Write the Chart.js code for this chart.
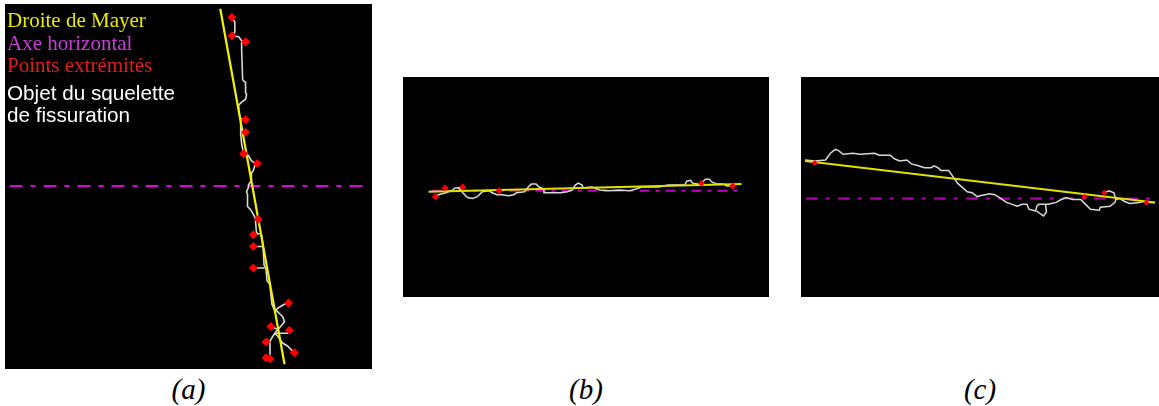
<!DOCTYPE html>
<html>
<head>
<meta charset="utf-8">
<script src="https://cdn.jsdelivr.net/npm/chart.js@4/dist/chart.umd.min.js"></script>
<style>
  html, body { margin: 0; padding: 0; background: #ffffff; }
  #page { position: relative; width: 1159px; height: 406px; overflow: hidden; background: #fff; }
  canvas { position: absolute; background: #000; }
  .leg { position: absolute; white-space: nowrap; line-height: 1; }
  .serif { font-family: "Liberation Serif", "DejaVu Serif", serif; font-size: 21px; }
  .sans { font-family: "Liberation Sans", Arial, sans-serif; font-size: 20.7px; color: #ffffff; }
  .cap { position: absolute; top: 371px; height: 36px; line-height: 36px; text-align: center;
         font-family: "Liberation Serif", "DejaVu Serif", serif; font-style: italic; font-size: 29px; color: #000; }
</style>
</head>
<body>
<div id="page">
  <canvas id="ca" width="367" height="365" style="left:5px;top:4px;"></canvas>
  <canvas id="cb" width="366" height="220" style="left:403px;top:77px;"></canvas>
  <canvas id="cc" width="358" height="220" style="left:801px;top:77px;"></canvas>

  <div class="leg serif" style="left:7px;top:10px;color:#ecec00;">Droite de Mayer</div>
  <div class="leg serif" style="left:7px;top:33px;color:#c83cd8;">Axe horizontal</div>
  <div class="leg serif" style="left:7px;top:55px;color:#e01c1c;">Points extrémités</div>
  <div class="leg sans" style="left:7px;top:83px;">Objet du squelette</div>
  <div class="leg sans" style="left:7px;top:105px;">de fissuration</div>

  <div class="cap" style="left:5px;width:367px;">(a)</div>
  <div class="cap" style="left:403px;width:366px;">(b)</div>
  <div class="cap" style="left:801px;width:358px;">(c)</div>
</div>
<script>
// ---------- Panel (a) ----------
const panelA_bounds = [5, 372, 4, 369];
const panelA_mayer = [[221, 4], [287, 369]];
const panelA_axis = [[5, 186], [372, 186]];
const panelA_ends = [[233,13],[233,32],[247,38],[247,118],[247,131],[245,153],[259,163],[260,220],[255,236],[255,248],[255,270],[291,306],[273,330],[292,334],[268,346],[297,357],[268,362],[272,363]];
const panelA_skeleton = [
  [[233,13],[236,18],[236,28],[233,32],[240,33],[243,37],[243,47],[244,77],[247,80],[247,90],[248,92],[247,97],[243,100],[240,103],[240,110],[242,117],[242,133],[243,143],[245,152],[248,153],[250,155],[253,160],[257,163],[255,170],[253,173],[253,180],[250,185],[250,187],[248,192],[249,195],[249,207],[252,210],[255,215],[257,219],[258,232],[259,235],[263,235],[264,240],[265,250],[266,267],[268,272],[269,283],[272,287],[273,298],[274,307],[276,312],[278,313]],
  [[243,37],[247,38]],
  [[242,117],[247,118]],
  [[242,131],[247,131]],
  [[257,163],[259,163]],
  [[259,235],[255,236]],
  [[264,248],[255,248]],
  [[266,270],[255,270]],
  [[278,313],[282,310],[287,307],[291,306]],
  [[278,313],[282,317],[285,320],[287,325],[283,330],[280,333],[277,337]],
  [[280,333],[273,330]],
  [[277,337],[290,337],[292,334]],
  [[277,337],[280,340],[282,343],[285,347],[290,350],[295,355],[297,357]],
  [[277,337],[275,340],[272,345],[268,346]],
  [[272,345],[272,360],[272,363]]
];

// ---------- Panel (b) ----------
const panelB_bounds = [403, 769, 77, 297];
const panelB_mayer = [[425, 192], [745, 184]];
const panelB_axis = [[428, 191], [745, 191]];
const panelB_ends = [[432,197],[442,188],[460,187],[497,191],[704,183],[736,186]];
const panelB_skeleton = [
  [[432,197],[435,195],[443,193],[450,190],[452,188],[455,188],[458,190],[460,193],[465,198],[470,199],[475,197],[480,192],[487,191],[490,193],[495,195],[500,195],[507,196],[512,195],[515,193],[523,192],[527,187],[530,184],[535,184],[538,187],[543,189],[543,193],[550,193],[560,193],[567,192],[572,190],[575,185],[578,183],[582,185],[583,188],[592,187],[600,190],[610,191],[620,190],[630,191],[637,189],[643,187],[650,187],[660,187],[670,185],[677,185],[687,185],[689,181],[693,180],[695,183],[700,184],[705,182],[708,179],[712,179],[715,182],[720,184],[727,184],[730,186],[736,186]],
  [[443,193],[442,188]],
  [[455,188],[460,187]]
];

// ---------- Panel (c) ----------
const panelC_bounds = [801, 1159, 77, 297];
const panelC_mayer = [[801, 160], [1159, 203]];
const panelC_axis = [[802, 199], [1159, 199]];
const panelC_ends = [[811,162],[1087,197],[1107,193],[1150,203]];
const panelC_skeleton = [
  [[801,159],[811,160],[822,159],[827,152],[832,148],[835,149],[840,153],[850,152],[857,153],[872,152],[877,154],[888,154],[893,158],[898,160],[905,159],[910,163],[917,165],[923,167],[930,167],[933,165],[937,167],[940,170],[948,170],[957,183],[967,192],[972,193],[977,197],[980,196],[990,194],[995,195],[1000,198],[1007,203],[1013,205],[1018,207],[1023,205],[1028,205],[1030,210],[1037,212],[1038,207],[1040,205],[1047,205],[1050,205],[1058,203],[1063,200],[1068,198],[1075,200],[1083,200],[1088,205],[1093,210],[1102,211],[1103,208],[1113,207],[1118,203],[1119,200],[1123,199],[1128,202],[1133,204],[1143,203],[1147,202],[1152,203],[1159,203]],
  [[1047,205],[1048,213],[1045,217],[1042,215],[1038,212]],
  [[1119,200],[1117,193],[1112,191],[1107,193]]
];

function pts(arr) { return arr.map(p => ({x: p[0], y: p[1]})); }

function makePanel(id, bounds, mayer, axis, ends, skeleton, st) {
  const datasets = [];
  datasets.push({ data: pts(ends), showLine: false, pointStyle: 'rectRot', pointRadius: st.pr,
    backgroundColor: '#ff0000', borderColor: '#ff0000', borderWidth: 0, order: 0 });
  datasets.push({ data: pts(mayer), showLine: true, borderColor: st.yellow, borderWidth: st.yw,
    pointRadius: 0, order: 1 });
  skeleton.forEach(seg => datasets.push({ data: pts(seg), showLine: true, borderColor: '#d9d9d9',
    borderWidth: st.ww, pointRadius: 0, tension: 0, order: 2 }));
  datasets.push({ data: pts(axis), showLine: true, borderColor: st.magenta, borderWidth: 2,
    borderDash: st.dash, pointRadius: 0, order: 3 });
  new Chart(document.getElementById(id), {
    type: 'scatter',
    data: { datasets },
    options: {
      responsive: false, animation: false, devicePixelRatio: 1, events: [],
      layout: { padding: 0 },
      plugins: { legend: { display: false }, tooltip: { enabled: false } },
      scales: {
        x: { type: 'linear', display: false, min: bounds[0], max: bounds[1] },
        y: { type: 'linear', display: false, min: bounds[2], max: bounds[3], reverse: true }
      }
    }
  });
}

makePanel('ca', panelA_bounds, panelA_mayer, panelA_axis, panelA_ends, panelA_skeleton,
  { pr: 4.5, yellow: '#f2f200', yw: 2.2, ww: 1.6, magenta: '#e000e0', dash: [13, 8, 5, 8] });
makePanel('cb', panelB_bounds, panelB_mayer, panelB_axis, panelB_ends, panelB_skeleton,
  { pr: 3.5, yellow: '#e2e200', yw: 2, ww: 1.5, magenta: '#c000c0', dash: [10, 6, 4, 6] });
makePanel('cc', panelC_bounds, panelC_mayer, panelC_axis, panelC_ends, panelC_skeleton,
  { pr: 3, yellow: '#e2e200', yw: 2, ww: 1.5, magenta: '#b000b0', dash: [12, 8, 4, 8] });
</script>
</body>
</html>
